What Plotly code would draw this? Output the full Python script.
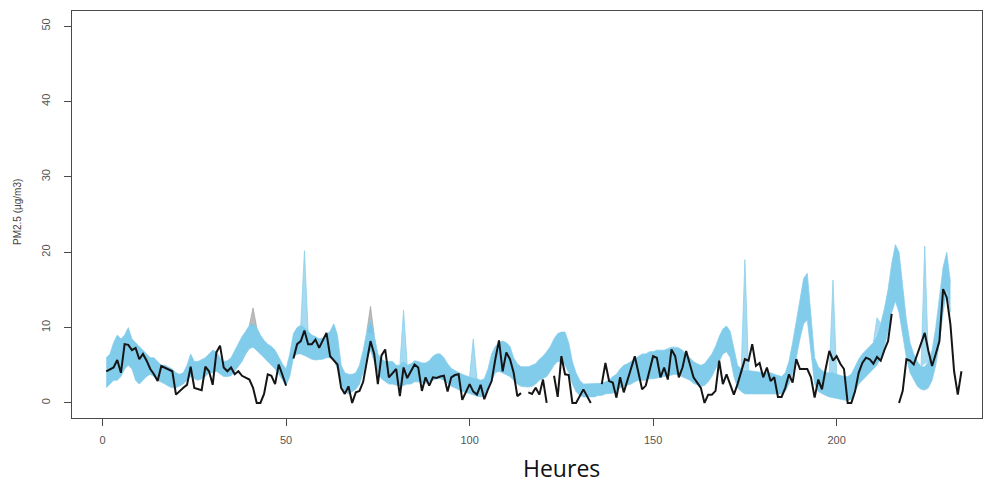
import plotly.graph_objects as go

# Observed hourly PM2.5 (µg/m3), hours 1..234; None = missing measurement
pm_obs = [
    4.2, 4.4, 4.7, 5.7, 4.0, 7.8, 7.7, 7.0, 7.3, 5.8,
    6.5, 5.6, 4.5, 3.8, 2.9, 4.9, 4.7, 4.5, 4.2, 1.1,
    1.6, 2.0, 2.4, 4.8, 2.0, 1.9, 1.7, 4.8, 4.2, 2.4,
    6.7, 7.6, 4.7, 4.2, 4.7, 3.8, 4.2, 3.6, 3.4, 3.1,
    2.0, 0.0, 0.0, 1.2, 3.8, 3.6, 2.5, 5.1, 3.7, 2.3,
    None, 5.9, 7.8, 8.2, 9.6, 7.8, 7.8, 8.4, 7.3, 8.3,
    9.3, 6.2, 5.6, 5.1, 2.0, 1.2, 2.2, 0.0, 1.4, 1.6,
    2.8, 5.5, 8.2, 6.5, 2.5, 6.3, 7.1, 3.4, 4.0, 4.5,
    0.9, 4.7, 3.3, 4.2, 5.1, 4.7, 1.6, 3.4, 2.3, 3.4,
    3.3, 3.5, 3.6, 1.5, 3.4, 3.7, 3.8, 0.4, 1.4, 2.5,
    1.5, 1.1, 2.4, 0.5, 1.8, 2.9, 5.8, 8.3, 4.2, 6.7,
    5.8, 4.0, 0.9, 1.3, None, 1.4, 1.2, 2.0, 1.1, 3.1,
    0.0, None, 3.6, 0.8, 6.2, 3.8, 3.7, 0.0, 0.0, 1.0,
    1.8, 0.9, 0.0, None, None, 2.5, 5.3, 2.9, 2.7, 0.7,
    3.4, 1.4, 2.9, 4.5, 6.2, 4.0, 1.8, 2.3, 4.2, 6.2,
    6.0, 3.4, 4.7, 3.1, 7.1, 6.2, 3.4, 4.7, 6.9, 5.1,
    3.4, 2.7, 2.0, 0.0, 1.1, 1.1, 1.6, 5.6, 2.5, 3.8,
    2.5, 1.1, 2.5, 4.0, 5.8, 5.6, 7.8, 4.9, 5.3, 3.4,
    4.7, 2.9, 3.4, 0.8, 0.8, 2.0, 3.8, 2.7, 5.8, 4.5,
    4.5, 4.5, 3.4, 0.7, 3.1, 1.8, 4.5, 6.9, 5.6, 6.2,
    5.2, 4.5, 0.0, 0.0, 1.5, 4.0, 5.3, 6.0, 5.8, 5.2,
    6.1, 5.6, 7.0, 8.2, 11.8, None, 0.0, 1.6, 5.8, 5.6,
    5.1, 6.5, 7.8, 9.3, 6.9, 4.9, 6.5, 8.2, 15.1, 14.0,
    10.4, 4.2, 1.1, 4.2,
]

# Ensemble forecast envelope (lower / upper member values), hours 1..231
ens_low = [
    2.0, 2.5, 3.0, 3.0, 3.5, 4.5, 5.0, 4.5, 3.0, 2.5,
    3.0, 3.5, 3.8, 3.5, 3.0, 2.8, 2.5, 2.2, 2.0, 2.0,
    2.2, 2.5, 3.0, 3.5, 3.2, 3.0, 3.2, 3.5, 4.0, 4.0,
    4.2, 3.8, 3.5, 3.5, 3.6, 4.2, 4.8, 5.5, 6.5, 7.2,
    7.4, 7.0, 6.5, 6.0, 5.5, 5.0, 4.5, 3.8, 3.0, 2.3,
    3.5, 6.0, 6.5, 6.5, 6.3, 6.0, 5.8, 5.7, 5.7, 5.8,
    6.0, 6.0, 5.8, 4.5, 2.5, 1.5, 1.2, 1.5, 1.8, 2.5,
    4.0, 6.0, 7.0, 5.5, 4.0, 3.2, 2.8, 2.5, 2.5, 2.3,
    2.2, 2.3, 2.5, 2.5, 2.8, 2.8, 2.7, 2.6, 2.8, 3.0,
    3.2, 3.2, 3.0, 2.6, 2.2, 2.0, 1.7, 1.5, 1.4, 1.2,
    1.0, 0.9, 0.8, 1.0, 1.8, 3.0, 4.0, 4.2, 4.0, 3.8,
    3.5, 3.0, 2.5, 2.2, 2.1, 2.1, 2.2, 2.5, 3.0, 3.2,
    3.5, 4.2, 5.0, 5.5, 5.5, 5.0, 4.0, 2.5, 1.5, 1.0,
    0.8, 0.8, 0.8, 0.8, 1.0, 1.0, 1.2, 1.2, 1.3, 1.5,
    2.0, 2.2, 2.3, 2.5, 2.8, 3.0, 3.0, 3.0, 3.2, 3.2,
    3.3, 3.4, 3.5, 3.6, 3.8, 3.8, 3.7, 3.5, 3.2, 3.0,
    2.6, 2.4, 2.2, 2.3, 2.8, 3.5, 4.5, 5.5, 6.5, 6.8,
    6.0, 3.5, 2.0, 1.5, 1.2, 1.2, 1.2, 1.3, 1.3, 1.3,
    1.3, 1.3, 1.2, 1.2, 1.2, 1.5, 2.5, 4.0, 6.0, 8.5,
    10.5, 11.0, 7.0, 2.5, 1.5, 1.2, 1.0, 0.8, 0.7, 0.6,
    0.5, 0.4, 0.3, 0.5, 1.5, 2.5, 3.0, 3.5, 4.0, 4.5,
    5.0, 6.0, 7.5, 9.5, 12.0, 13.5, 12.0, 9.0, 6.0, 4.0,
    3.0, 2.2, 1.8, 1.7, 2.0, 3.0, 5.0, 8.0, 12.0, 15.0,
    12.0,
]
ens_high = [
    6.0, 6.5, 8.0, 9.0, 8.5, 9.0, 10.0, 8.5, 8.0, 7.5,
    7.0, 6.5, 6.0, 6.0, 5.5, 5.0, 5.0, 4.8, 4.5, 4.0,
    3.8, 4.0, 5.0, 6.5, 5.5, 5.5, 5.8, 6.0, 6.5, 7.0,
    6.8, 6.0, 5.5, 5.6, 6.0, 7.0, 8.0, 8.8, 9.5, 10.3,
    10.5, 10.0, 9.0, 8.3, 7.8, 7.5, 7.0, 6.0, 5.2, 4.5,
    6.5, 9.2, 10.0, 10.3, 10.0, 9.5, 9.0, 8.8, 8.5, 8.6,
    9.0, 9.5, 10.5, 9.0, 5.0, 4.0, 3.8, 3.8, 4.0, 5.0,
    7.0, 9.5, 11.0, 9.0, 6.5, 5.8, 5.5, 5.5, 5.5, 5.0,
    5.0, 5.5, 5.0, 5.2, 5.6, 5.5, 5.3, 5.3, 5.6, 6.2,
    6.5, 6.5, 6.0, 5.2, 4.6, 4.3, 4.0, 3.8, 3.6, 3.5,
    3.4, 3.2, 3.0, 3.2, 4.5, 6.5, 7.5, 8.0, 8.2, 8.0,
    7.5, 6.0, 5.2, 4.8, 4.8, 4.8, 5.0, 5.2, 5.8, 6.2,
    6.8, 7.5, 8.5, 9.2, 9.4, 9.4, 8.0, 5.5, 4.0, 3.0,
    2.5, 2.5, 2.5, 2.5, 2.6, 2.6, 2.8, 3.0, 3.5, 3.8,
    4.5, 5.0, 5.2, 5.5, 5.8, 6.2, 6.5, 6.5, 6.8, 6.8,
    7.0, 7.0, 7.0, 7.2, 7.4, 7.4, 7.3, 7.0, 6.5, 6.0,
    5.5, 5.2, 5.0, 5.2, 5.8, 6.5, 7.5, 8.8, 9.8, 10.2,
    9.5, 7.0, 5.0, 4.5, 4.3, 4.3, 4.2, 4.2, 4.0, 4.0,
    4.0, 4.0, 3.8, 3.6, 3.5, 4.0, 5.5, 8.0, 11.0, 14.0,
    16.5, 17.2, 12.0, 6.0, 4.8, 4.3, 4.0, 4.0, 4.0, 3.8,
    3.6, 3.5, 3.5, 3.8, 4.8, 5.8, 6.5, 7.0, 7.5, 8.0,
    9.0, 10.5, 12.5, 15.0, 18.5, 21.0, 20.0, 15.0, 11.0, 8.0,
    6.5, 5.5, 4.8, 4.8, 5.5, 7.0, 10.0, 14.0, 18.0, 20.0,
    16.0,
]

# Isolated members that peak far above the envelope
spike_hours = [55, 82, 101, 175, 199, 211, 224]
spike_peaks = [20.2, 12.3, 8.5, 19.0, 16.3, 11.3, 20.8]
grey_hours = [41, 73]
grey_peaks = [12.6, 12.8]

x_ticks = [0, 50, 100, 150, 200]
y_ticks = [0, 10, 20, 30, 40, 50]

hours_obs = list(range(1, len(pm_obs) + 1))
hours_ens = list(range(1, len(ens_low) + 1))

BLUE_FILL = "rgba(112,196,232,0.88)"
BLUE_EDGE = "rgba(135,206,235,0.75)"
GREY = "rgba(160,160,160,0.7)"
AXIS = "#4a4a4a"

fig = go.Figure()

# grey members, drawn first so only their tips show above the band
for h, p in zip(grey_hours, grey_peaks):
    fig.add_trace(go.Scatter(
        x=[h - 1, h, h + 1], y=[ens_high[h - 2], p, ens_high[h]],
        mode="lines", fill="toself", fillcolor=GREY,
        line=dict(color=GREY, width=1), hoverinfo="skip", showlegend=False))

# ensemble envelope
fig.add_trace(go.Scatter(x=hours_ens, y=ens_low, mode="lines",
                         line=dict(color=BLUE_EDGE, width=1),
                         hoverinfo="skip", showlegend=False))
fig.add_trace(go.Scatter(x=hours_ens, y=ens_high, mode="lines",
                         line=dict(color=BLUE_EDGE, width=1),
                         fill="tonexty", fillcolor=BLUE_FILL,
                         hoverinfo="skip", showlegend=False))

# single-member spikes
for h, p in zip(spike_hours, spike_peaks):
    fig.add_trace(go.Scatter(
        x=[h - 1, h, h + 1], y=[ens_high[h - 2], p, ens_high[h]],
        mode="lines", fill="toself", fillcolor=BLUE_EDGE,
        line=dict(color=BLUE_EDGE, width=1), hoverinfo="skip",
        showlegend=False))

# observations
fig.add_trace(go.Scatter(x=hours_obs, y=pm_obs, mode="lines",
                         line=dict(color="#151515", width=2),
                         connectgaps=False, showlegend=False))

axis_common = dict(
    showgrid=False, zeroline=False, showline=True, mirror=True,
    linecolor=AXIS, linewidth=1, ticks="outside", ticklen=7,
    tickwidth=1, tickcolor=AXIS,
    tickfont=dict(family="Liberation Sans, Arial, sans-serif",
                  size=11, color="#555555"),
)

fig.update_layout(
    width=986, height=484,
    margin=dict(l=72, r=4, t=11, b=66),
    paper_bgcolor="white", plot_bgcolor="white",
    xaxis=dict(range=[-8.33, 239.6], tickvals=x_ticks,
               ticklabelstandoff=5, **axis_common),
    yaxis=dict(range=[-2, 52], tickvals=y_ticks, tickangle=-90,
               ticklabelstandoff=10, **axis_common),
    annotations=[
        dict(text="PM2.5 (µg/m3)", x=18, y=212, xref="paper", yref="paper",
             showarrow=False, textangle=-90,
             font=dict(family="Liberation Sans, Arial, sans-serif",
                       size=10, color="#444444")),
        dict(text="Heures", x=561, y=468, xref="paper", yref="paper",
             showarrow=False,
             font=dict(family="Open Sans, sans-serif", size=23,
                       color="#111111")),
    ],
)

# place the two titles in pixel terms
plot_w = 986 - 72 - 4
plot_h = 484 - 11 - 66
for ann in fig.layout.annotations:
    px, py = ann.x, ann.y
    ann.x = (px - 72) / plot_w
    ann.y = 1 - (py - 11) / plot_h
    ann.xanchor = "center"
    ann.yanchor = "middle"

fig.write_html("out.html")
